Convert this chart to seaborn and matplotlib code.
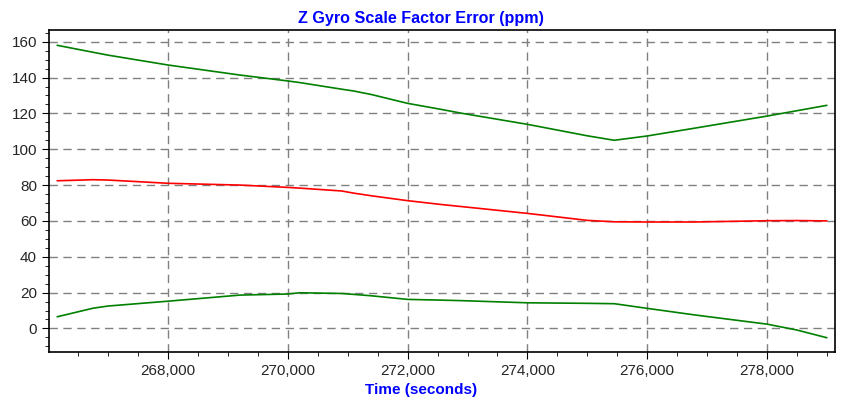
import pandas as pd
import seaborn as sns
import matplotlib.pyplot as plt
from matplotlib.ticker import MultipleLocator, FuncFormatter

# ---------------------------------------
# Data
# ---------------------------------------
time_s = [266150, 266750, 267000, 268000, 269200, 270000, 270200, 270900,
          271100, 271400, 272000, 272550, 272900, 274000, 275000, 275450,
          276000, 276800, 278000, 278500, 279000]
estimate = [82.4, 83.0, 82.8, 81.0, 80.0, 78.7, 78.3, 76.7, 75.5, 74.0, 71.3,
            69.2, 68.0, 64.2, 60.3, 59.5, 59.4, 59.4, 60.1, 60.2, 60.0]
upper = [158.0, 154.1, 152.5, 147.0, 141.4, 138.1, 137.2, 133.5, 132.5, 130.5,
         125.6, 122.3, 120.1, 113.9, 107.5, 105.0, 107.4, 111.8, 118.5, 121.5, 124.5]
lower = [6.5, 11.3, 12.5, 15.2, 18.6, 19.2, 19.9, 19.5, 19.0, 18.2, 16.2,
         15.8, 15.5, 14.3, 14.0, 13.8, 11.2, 7.5, 2.4, -0.9, -5.2]

df = pd.DataFrame({"Time": time_s, "Estimate": estimate,
                   "Upper": upper, "Lower": lower})

# ---------------------------------------
# Style
# ---------------------------------------
sns.set_style("ticks")
plt.rcParams["font.family"] = ["Liberation Sans", "DejaVu Sans"]

fig, ax = plt.subplots(figsize=(8.42, 4.01), dpi=100)
fig.subplots_adjust(left=0.058, right=0.992, bottom=0.122, top=0.925)

sns.lineplot(data=df, x="Time", y="Upper", ax=ax, color="#008000", linewidth=1.2)
sns.lineplot(data=df, x="Time", y="Estimate", ax=ax, color="#ff0000", linewidth=1.2)
sns.lineplot(data=df, x="Time", y="Lower", ax=ax, color="#008000", linewidth=1.2)

ax.set_xlim(266010, 279140)
ax.set_ylim(-13.2, 166.5)

ax.xaxis.set_major_locator(MultipleLocator(2000))
ax.xaxis.set_minor_locator(MultipleLocator(500))
ax.yaxis.set_major_locator(MultipleLocator(20))
ax.yaxis.set_minor_locator(MultipleLocator(5))
ax.xaxis.set_major_formatter(FuncFormatter(lambda v, p: f"{int(v):,}"))

ax.grid(True, which="major", color="#808080", linestyle=(0, (6, 4)), linewidth=1)
ax.tick_params(axis="both", which="major", direction="out", length=5,
               labelsize=11, color="black")
ax.tick_params(axis="both", which="minor", direction="out", length=3, color="black")

for s in ax.spines.values():
    s.set_visible(True)
    s.set_color("black")
    s.set_linewidth(1.2)

# title and x label are centred on the figure, not the axes
fig.text(0.5, 0.955, "Z Gyro Scale Factor Error (ppm)", color="#0000ff",
         fontweight="bold", fontsize=11.6, ha="center", va="center")
ax.set_xlabel("Time (seconds)", color="#0000ff", fontweight="bold", fontsize=11,
              labelpad=4)
ax.xaxis.label.set_x((0.5 - 0.058) / (0.992 - 0.058))
ax.set_ylabel("")

fig.savefig("out.png", dpi=100)
